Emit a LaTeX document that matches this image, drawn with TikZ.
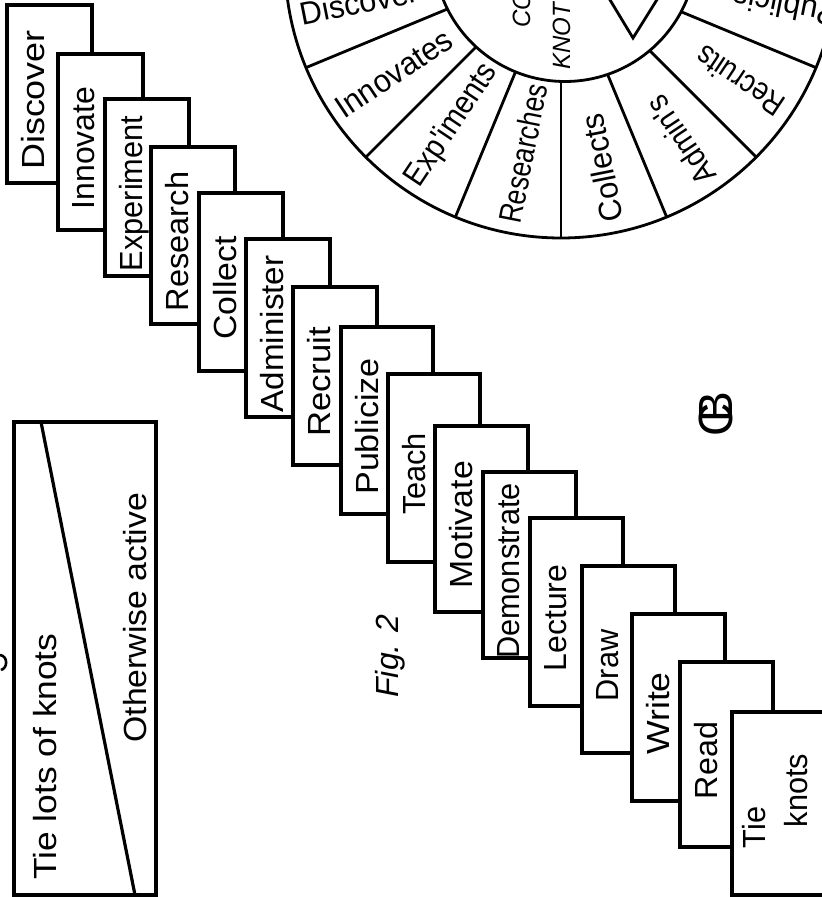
\documentclass[tikz,border=0pt]{standalone}
\usepackage{fontspec}
\usepackage{graphicx}
\setmainfont{Liberation Sans}
\newfontfamily\letterfont{Liberation Sans}[FakeStretch=0.96]
\usetikzlibrary{calc}
\tikzset{
  outline/.style  ={line width=1.6pt},
  stepbox/.style  ={outline, fill=white},
  steptext/.style ={rotate=90, anchor=north, inner sep=0pt, align=left, font=\letterfont\fontsize{16}{21}\selectfont},
  boxtext/.style  ={rotate=90, anchor=north west, inner sep=0pt, font=\letterfont\fontsize{16}{19}\selectfont},
  wheelline/.style={line width=1.4pt},
  sector/.style   ={anchor=west, inner sep=0pt, font=\letterfont\fontsize{16}{19}\selectfont},
  hub/.style      ={rotate=90, anchor=base west, inner sep=0pt, font=\letterfont\itshape\fontsize{12.5}{15}\selectfont},
}

\begin{document}
\begin{tikzpicture}[x=0.5pt, y=-0.5pt]
  \useasboundingbox (0,0) rectangle (822,897);
  \fill[white] (0,0) rectangle (822,897);
  \clip (0,0) rectangle (822,897);

  % split box
  \draw[outline] (14,422) rectangle (156,895);
  \draw[outline] (41,422) -- (135,895);
  \node[boxtext] (tielots) at (33,880) {\scalebox{1.15}[1]{Tie lots of knots}};
  \node[boxtext] (otherwise) at (123,743) {\scalebox{1.1}[1]{Otherwise active}};
  \draw[line width=1.3pt] (0,655) .. controls (8,656) and (8,668) .. (1,670);

  % staircase
  \foreach \l/\t/\r/\b/\s/\txt [count=\i] in {
      7/5/92/183/1.17/Discover,
      58/54/143/230/1.04/Innovate,
      105/99/189/276/1/Experiment,
      151/147/235/324/1.06/Research,
      199/193/283/371/1.1/Collect,
      246/239/330/417/1.08/Administer,
      293/287/377/465/1.13/Recruit,
      341/327/433/514/1.11/Publicize,
      388/374/480/562/1/Teach,
      435/426/528/612/1.1/Motivate,
      483/472/576/658/1/Demonstrate,
      530/518/623/706/1.04/Lecture,
      582/566/675/753/1/Draw,
      632/614/725/801/1.16/Write,
      680/662/773/847/1.05/Read}
  {
    \draw[stepbox] (\l,\t) rectangle (\r,\b);
    \node[steptext] (word\i) at ({\l+14},{(\t+\b)/2+6}) {\scalebox{\s}[1]{\txt}};
  }
  \draw[stepbox] (732,712) rectangle (830,895);
  \node[steptext] (tieknots) at (742,801) {Tie\\\hspace*{10.5pt}knots};

  % wheel
  \coordinate (rim) at (561,-38);
  \coordinate (hub) at (565,-50);
  \foreach \a in {22.5,45,...,157.5}
    \draw[wheelline] ($(rim)+(\a:100)$) -- ($(rim)+(\a:276)$);
  \draw[wheelline] (rim) circle[radius=276];
  \filldraw[wheelline, fill=white] (hub) circle[radius=131.5];
  \foreach \a/\rr/\s/\txt [count=\i] in {11.25/282/1/Publicis, 33.75/265/0.88/Recruits,
      56.25/265/0.92/Admin's, 78.75/265/1/Collects, 101.25/266/0.86/Researches,
      123.75/267/0.94/Exp'iments, 146.25/268/1/Innovates, 168.75/266/1/Discover}
    \node[sector, rotate=180-\a] (sector\i) at ($(rim)+(\a:\rr)$) {\scalebox{\s}[1]{\txt}};
  \node[hub] (hubtop) at (530,28) {CO};
  \node[hub] (hubbottom) at (570,70) {KNOT};
  \coordinate (tip) at (633,38);
  \draw[wheelline] ($(tip)+(-29,-48)$) -- (tip) -- ($(tip)+(30,-48)$);

  % captions
  \node[rotate=90, anchor=north west, inner sep=0pt, font=\itshape\fontsize{16}{19}\selectfont] (figlabel) at (375,698) {Fig. 2};
  \node[rotate=90, inner sep=0pt, font=\letterfont\fontsize{24}{24}\selectfont] (mono) at (716,414) {C\kern-0.4em B};
\end{tikzpicture}
\end{document}
